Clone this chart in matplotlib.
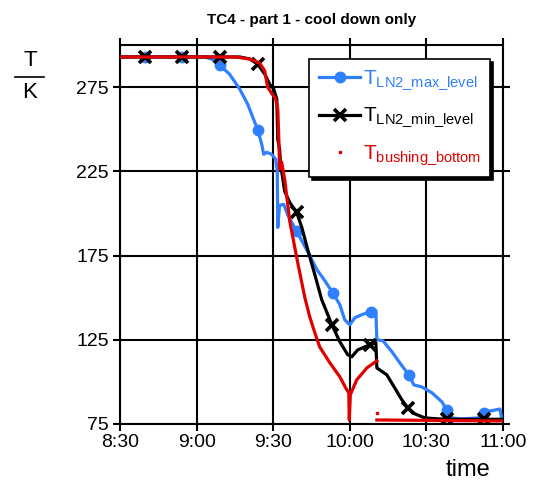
import numpy as np
import matplotlib
matplotlib.use('Agg')
import matplotlib.pyplot as plt
from matplotlib.lines import Line2D

plt.rcParams['font.family'] = ['Liberation Sans', 'DejaVu Sans']
plt.rcParams['mathtext.fontset'] = 'custom'
plt.rcParams['mathtext.rm'] = 'Liberation Sans'

# time in minutes after 8:30, temperature in K
tick_pos = [0, 30, 60, 90, 120, 150]
tick_labels = ['8:30', '9:00', '9:30', '10:00', '10:30', '11:00']
y_ticks = [75, 125, 175, 225, 275]

max_t = [0, 9.6, 24.1, 33.1, 35.9, 39.0, 42.9, 46.9, 50.0, 52.0, 54.0, 55.5, 56.3,
         57.5, 59.4, 61.0, 61.6, 61.8, 62.5, 64.1, 65.8, 69.2, 71.6, 74.3, 77.1,
         80.2, 83.3, 86.1, 88.0, 90.0, 92.0, 94.7, 98.2, 100.2, 100.6, 103.0,
         106.5, 109.6, 113.1, 115.1, 118.2, 122.2, 126.1, 128.0, 130.0, 133.9,
         140.2, 142.5, 144.9, 148.8, 149.6]
max_T = [292.9, 292.9, 292.9, 292.9, 291.7, 288.1, 282.7, 273.8, 264.9, 257.1, 249.4,
         241.1, 235.1, 236.3, 235.1, 232.1, 225.0, 191.7, 204.8, 205.4, 198.8,
         189.3, 182.7, 175.0, 166.7, 160.1, 153.0, 145.8, 136.9, 133.9, 138.1,
         139.9, 141.7, 142.3, 125.0, 124.4, 117.9, 111.3, 104.2, 98.2, 97.0, 93.5,
         88.1, 83.3, 78.6, 78.0, 78.6, 81.5, 82.7, 83.9, 77.4]
max_marks = [1, 2, 5, 10, 21, 26, 32, 38, 43, 47]

min_t = [0, 9.6, 24.1, 39.0, 46.9, 50.8, 53.9, 56.7, 58.6, 60.2, 61.4, 61.8, 62.5,
         62.9, 64.5, 66.5, 69.2, 71.2, 73.5, 76.3, 79.0, 83.0, 86.1, 89.2, 90.8,
         93.1, 95.9, 97.8, 100.2, 100.6, 104.5, 107.6, 110.4, 112.7, 115.5, 119.4,
         125.3, 128.0, 142.5, 150.0]
min_T = [292.9, 292.9, 292.9, 292.9, 292.9, 291.7, 288.7, 282.7, 276.8, 273.8, 267.9,
         244.0, 238.1, 229.2, 213.1, 206.5, 200.6, 191.7, 178.6, 163.7, 148.8,
         133.9, 123.8, 116.1, 114.9, 119.0, 120.8, 122.0, 123.2, 108.3, 104.2,
         96.4, 89.3, 84.5, 81.0, 78.6, 78.0, 77.8, 77.8, 77.8]
min_marks = [1, 2, 3, 6, 16, 21, 27, 33, 37, 38]

bush_t = [0, 44.9, 50.8, 54.7, 56.7, 57.8, 59.4, 61.0, 61.8, 62.2, 62.5, 63.3, 64.5,
          66.5, 69.6, 72.4, 74.3, 76.3, 78.2, 82.2, 86.1, 88.4, 89.6, 89.8, 90.2,
          92.7, 96.7, 100.6, np.nan, 100.6, 150.0]
bush_T = [292.9, 292.9, 291.7, 289.3, 284.5, 275.0, 271.4, 267.9, 261.9, 244.0,
          226.2, 230.4, 220.2, 195.2, 170.8, 150.0, 138.7, 129.2, 120.8, 111.3,
          103.0, 96.4, 93.5, 77.4, 92.3, 101.2, 108.3, 112.5, np.nan, 77.4, 76.8]
dot_t = [100.6]
dot_T = [81.5]

blue = '#2f7fff'
red = '#e10000'

fig = plt.figure(figsize=(5.35, 4.84), dpi=100)
ax = fig.add_axes([120 / 535, 60 / 484, 383 / 535, 379 / 484])

ax.plot(max_t, max_T, color=blue, lw=2.3, marker='o', ms=7.5, markevery=max_marks,
        zorder=3)
ax.plot(min_t, min_T, color='black', lw=2.3, marker='x', ms=8, mew=2.6,
        markevery=min_marks, zorder=4)
ax.plot(bush_t, bush_T, color=red, lw=2.3, zorder=5)
ax.plot(dot_t, dot_T, color=red, marker='s', ms=1.5, ls='none', zorder=5)

ax.set_xlim(0, 150)
ax.set_ylim(75, 300)
ax.set_xticks(tick_pos)
ax.set_xticklabels(tick_labels)
ax.set_yticks(y_ticks)
ax.grid(True, color='black', lw=1.5)
ax.set_axisbelow(True)
for s in ax.spines.values():
    s.set_linewidth(1.5)
ax.tick_params(direction='out', length=5, width=1.5, labelsize=14, pad=2,
               top=True, right=True)
ax.tick_params(axis='y', pad=3)

ax.set_title('TC4 - part 1 - cool down only', fontsize=11, fontweight='bold', pad=15)

fig.text(30 / 535, 1 - 60 / 484, 'T', fontsize=16, ha='center', va='center')
fig.text(30 / 535, 1 - 92 / 484, 'K', fontsize=16, ha='center', va='center')
fig.add_artist(Line2D([15 / 535, 44 / 535], [1 - 77 / 484, 1 - 77 / 484],
                      color='black', lw=1.2))
fig.text(468 / 535, 1 - 470 / 484, 'time', fontsize=17, ha='center', va='center')

handles = [Line2D([], [], color=blue, lw=2.3, marker='o', ms=7.5),
           Line2D([], [], color='black', lw=2.3, marker='x', ms=8, mew=2.6),
           Line2D([], [], color=red, marker='s', ms=1.5, ls='none')]
labels = [r'T$_{\mathregular{LN2\_max\_level}}$',
          r'T$_{\mathregular{LN2\_min\_level}}$',
          r'T$_{\mathregular{bushing\_bottom}}$']
leg = ax.legend(handles, labels, loc='upper right', bbox_to_anchor=(0.966, 0.962),
                borderaxespad=0, fontsize=15, labelcolor='linecolor',
                handlelength=2.0, handletextpad=0.1, labelspacing=0.65,
                borderpad=0.45, fancybox=False, framealpha=1, edgecolor='black',
                shadow={'color': 'black', 'alpha': 1, 'ox': 2, 'oy': -2})
leg.get_frame().set_linewidth(1.2)

fig.savefig('out.png', dpi=100)
